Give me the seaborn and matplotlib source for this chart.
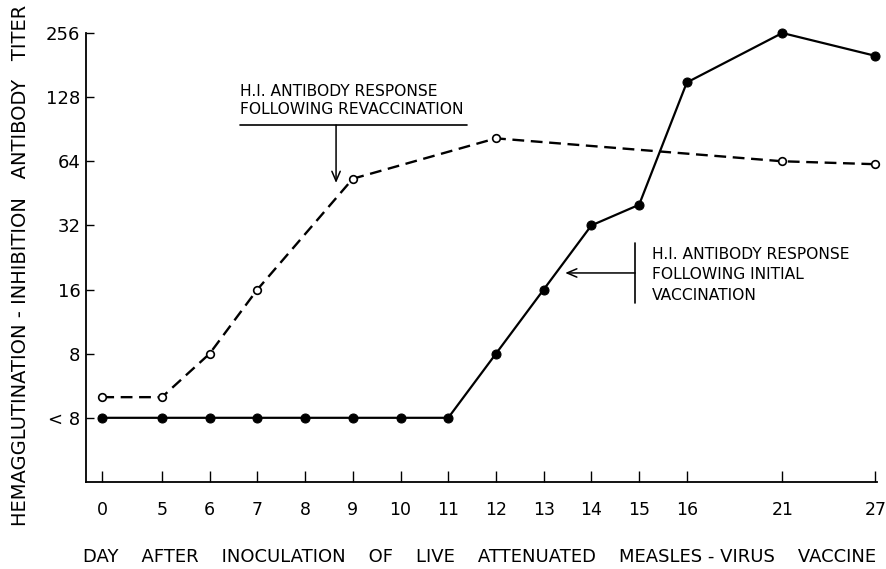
import numpy as np
import matplotlib
matplotlib.use("Agg")
import matplotlib.pyplot as plt
from matplotlib.ticker import NullLocator
import seaborn as sns

# days after inoculation and H.I. titers (4 = "<8")
days_initial = [0, 5, 6, 7, 8, 9, 10, 11, 12, 13, 14, 15, 16, 21, 27]
titer_initial = [4, 4, 4, 4, 4, 4, 4, 4, 8, 16, 32, 40, 150, 256, 200]

days_revacc = [0, 5, 6, 7, 9, 12, 21, 27]
titer_revacc = [5, 5, 8, 16, 53, 82, 64, 62]

tick_days = [0, 5, 6, 7, 8, 9, 10, 11, 12, 13, 14, 15, 16, 21, 27]
titer_ticks = [4, 8, 16, 32, 64, 128, 256]
titer_labels = ["< 8", "8", "16", "32", "64", "128", "256"]

# the day axis is drawn unevenly in the original (0-5 and 16-27 compressed)
scale_days = [-1, 0, 5, 16, 21, 27, 30]
scale_pos = [-1, 0, 1.25, 12.25, 14.25, 16.2, 17.2]


def day_forward(d):
    return np.interp(d, scale_days, scale_pos)


def day_inverse(p):
    return np.interp(p, scale_pos, scale_days)


sns.set_style("ticks")
plt.rcParams["font.family"] = ["DejaVu Sans"]
plt.rcParams["text.color"] = "black"
plt.rcParams["axes.labelcolor"] = "black"

fig = plt.figure(figsize=(8.87, 5.69), dpi=100)
ax = fig.add_axes([0.097, 0.153, 0.892, 0.789])

sns.lineplot(x=days_initial, y=titer_initial, ax=ax, color="black", lw=1.6,
             marker="o", markersize=6.5, markerfacecolor="black",
             markeredgecolor="black", sort=False, errorbar=None, clip_on=False)
sns.lineplot(x=days_revacc, y=titer_revacc, ax=ax, color="black", lw=1.7,
             marker="o", markersize=5.5, markerfacecolor="white",
             markeredgecolor="black", markeredgewidth=1.2, sort=False,
             errorbar=None, clip_on=False)
ax.lines[-1].set_linestyle((0, (5, 2.8)))

ax.set_xscale("function", functions=(day_forward, day_inverse))
ax.set_yscale("log", base=2)
ax.set_xlim(-0.34, 27.12)
ax.set_ylim(2, 256)

ax.set_xticks(tick_days)
ax.set_xticklabels([str(d) for d in tick_days])
ax.set_yticks(titer_ticks)
ax.set_yticklabels(titer_labels)
ax.xaxis.set_minor_locator(NullLocator())
ax.yaxis.set_minor_locator(NullLocator())

ax.tick_params(axis="x", direction="in", length=8, width=1, pad=14,
               labelsize=12.5, colors="black")
ax.tick_params(axis="y", direction="in", length=6, width=1, pad=4,
               labelsize=13, colors="black")
sns.despine(ax=ax)
for s in ["left", "bottom"]:
    ax.spines[s].set_color("black")
    ax.spines[s].set_linewidth(1.3)

ax.set_xlabel("DAY    AFTER    INOCULATION    OF    LIVE    ATTENUATED    MEASLES - VIRUS    VACCINE",
              fontsize=13)
ax.xaxis.set_label_coords(0.498, -0.147)
ax.set_ylabel("HEMAGGLUTINATION - INHIBITION   ANTIBODY   TITER", fontsize=14)
ax.yaxis.set_label_coords(-0.071, 0.483)

# annotation for revaccination curve
ax.text(0.1947, 0.8497, "H.I. ANTIBODY RESPONSE\nFOLLOWING REVACCINATION",
        transform=ax.transAxes, ha="left", va="center", fontsize=11.2,
        linespacing=1.28)
ax.plot([0.1947, 0.4817], [0.795, 0.795], transform=ax.transAxes,
        color="black", lw=1.2, clip_on=False)
ax.annotate("", xy=(0.316, 0.666), xytext=(0.316, 0.795),
            xycoords="axes fraction", textcoords="axes fraction",
            arrowprops=dict(arrowstyle="->,head_length=0.7,head_width=0.3",
                            color="black", lw=1.1, shrinkA=0, shrinkB=0))

# annotation for initial vaccination curve
ax.text(0.7155, 0.461, "H.I. ANTIBODY RESPONSE\nFOLLOWING INITIAL\nVACCINATION",
        transform=ax.transAxes, ha="left", va="center", fontsize=11.2,
        linespacing=1.48)
ax.plot([0.694, 0.694], [0.399, 0.532], transform=ax.transAxes,
        color="black", lw=1.2, clip_on=False)
ax.annotate("", xy=(0.6056, 0.4655), xytext=(0.694, 0.4655),
            xycoords="axes fraction", textcoords="axes fraction",
            arrowprops=dict(arrowstyle="->,head_length=0.7,head_width=0.3",
                            color="black", lw=1.1, shrinkA=0, shrinkB=0))

fig.savefig("out.png", dpi=100, facecolor="white")
